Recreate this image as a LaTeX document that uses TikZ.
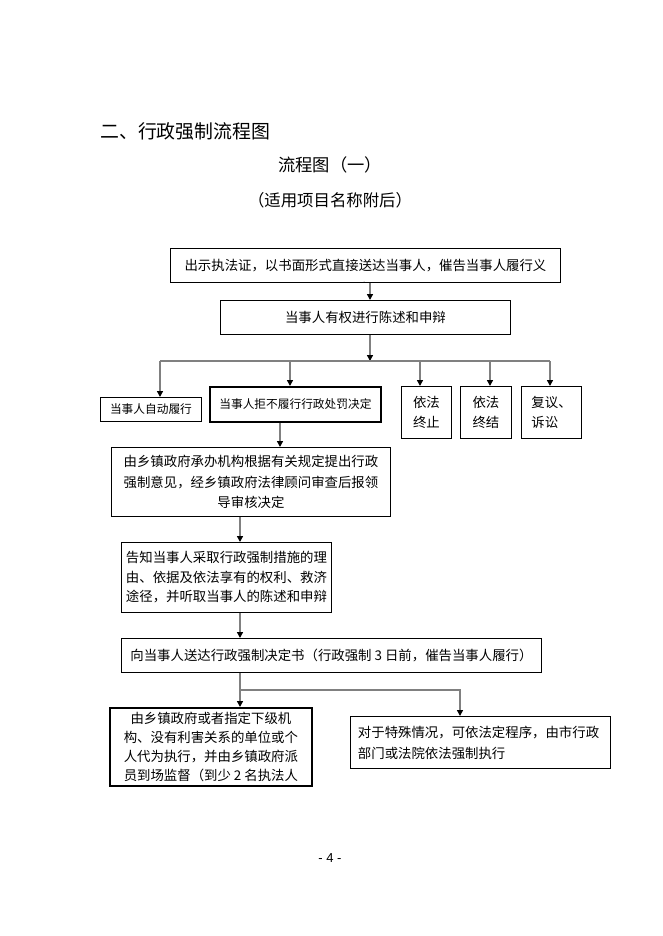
\documentclass[tikz,border=0pt]{standalone}
\usepackage{fontspec}
\setmainfont{Noto Sans CJK SC}
\newfontfamily\pagefont{Liberation Sans}
\usetikzlibrary{arrows.meta}

\begin{document}
\begin{tikzpicture}[x=1pt, y=-1pt,
  every node/.style={inner sep=0pt},
  box/.style={draw, line width=0.9pt, anchor=north west, align=center,
    font=\fontsize{13.4}{20.5}\selectfont},
  heavy/.style={box, line width=1.8pt},
  small/.style={font=\fontsize{11.7}{14}\selectfont},
  link/.style={draw=gray, line width=1.4pt},
  arr/.style={link, -{Triangle[color=black, length=6pt, width=6pt]}}]
  \useasboundingbox (0,0) rectangle (662,936);

  % headings
  \node[anchor=west, font=\fontsize{18.9}{22}\selectfont] (heading) at (100,131) {二、行政强制流程图};
  \node[font=\fontsize{17.3}{20}\selectfont] (chart) at (330,165) {流程图（一）};
  \node[font=\fontsize{16.4}{20}\selectfont] (remark) at (330,200) {（适用项目名称附后）};

  % boxes
  \node[box, minimum width=390pt, minimum height=34pt] (notice) at (170,248) {出示执法证，以书面形式直接送达当事人，催告当事人履行义};
  \begin{scope}
    \clip (notice.north west) rectangle (notice.south east);
    \node[font=\fontsize{13.4}{20}\selectfont] (cut) at ([yshift=-23pt]notice.center) {务};
  \end{scope}
  \node[box, minimum width=290pt, minimum height=34pt] (defend) at (220,300) {当事人有权进行陈述和申辩};

  \node[box, small, minimum width=101pt, minimum height=24pt] (comply) at (100,397) {当事人自动履行};
  \node[heavy, small, minimum width=171pt, minimum height=35pt] (refuse) at (209,386) {当事人拒不履行行政处罚决定};
  \node[box, minimum width=50pt, minimum height=52pt] (stop) at (401,386) {依法\\终止};
  \node[box, minimum width=51pt, minimum height=52pt] (close) at (460,386) {依法\\终结};
  \node[box, align=left, text width=40pt, minimum width=60pt, minimum height=52pt] (review) at (521,386) {复议、\\诉讼};

  \node[box, minimum width=279pt, minimum height=69pt] (opinion) at (111,447) {由乡镇政府承办机构根据有关规定提出行政\\强制意见，经乡镇政府法律顾问审查后报领\\导审核决定};
  \node[box, minimum width=210pt, minimum height=70pt, font=\fontsize{13.4}{19.5}\selectfont] (inform) at (121,542) {告知当事人采取行政强制措施的理\\由、依据及依法享有的权利、救济\\途径，并听取当事人的陈述和申辩};
  \node[box, minimum width=420pt, minimum height=34pt] (decide) at (121,638) {向当事人送达行政强制决定书（行政强制 3 日前，催告当事人履行）};
  \node[heavy, minimum width=202pt, minimum height=78pt, font=\fontsize{13.4}{18.9}\selectfont] (execute) at (109,707) {由乡镇政府或者指定下级机\\构、没有利害关系的单位或个\\人代为执行，并由乡镇政府派\\员到场监督（到少 2 名执法人};
  \node[box, align=left, text width=245pt, minimum width=260pt, minimum height=52pt, font=\fontsize{13.4}{21}\selectfont] (court) at (350,716) {对于特殊情况，可依法定程序，由市行政\\部门或法院依法强制执行};

  \node[font=\fontsize{13}{15}\pagefont] (page) at (330,858) {- 4 -};

  % connectors
  \coordinate (trunk) at (370,361);
  \coordinate (busW) at (160,361);
  \coordinate (busE) at (550,361);
  \coordinate (drop) at (280,430);
  \coordinate (split) at (240,690);
  \coordinate (branch) at (460,690);

  \draw[arr] (notice.south -| trunk) -- (defend.north -| trunk);
  \draw[arr] (defend.south -| trunk) -- (trunk);
  \draw[link] (busW) -- (busE);
  \draw[arr] (busW) -- (busW |- comply.north);
  \foreach \x/\n in {290/refuse, 420/stop, 490/close, 550/review}{
    \path (\x,361) coordinate (tap);
    \draw[arr] (tap) -- (tap |- \n.north);
  }
  \draw[arr] (refuse.south -| drop) -- (opinion.north -| drop);
  \draw[arr] (opinion.south -| split) -- (inform.north -| split);
  \draw[arr] (inform.south -| split) -- (decide.north -| split);
  \draw[arr] (decide.south -| split) -- (execute.north -| split);
  \draw[arr] (split) -- (branch) -- (branch |- court.north);
\end{tikzpicture}
\end{document}
